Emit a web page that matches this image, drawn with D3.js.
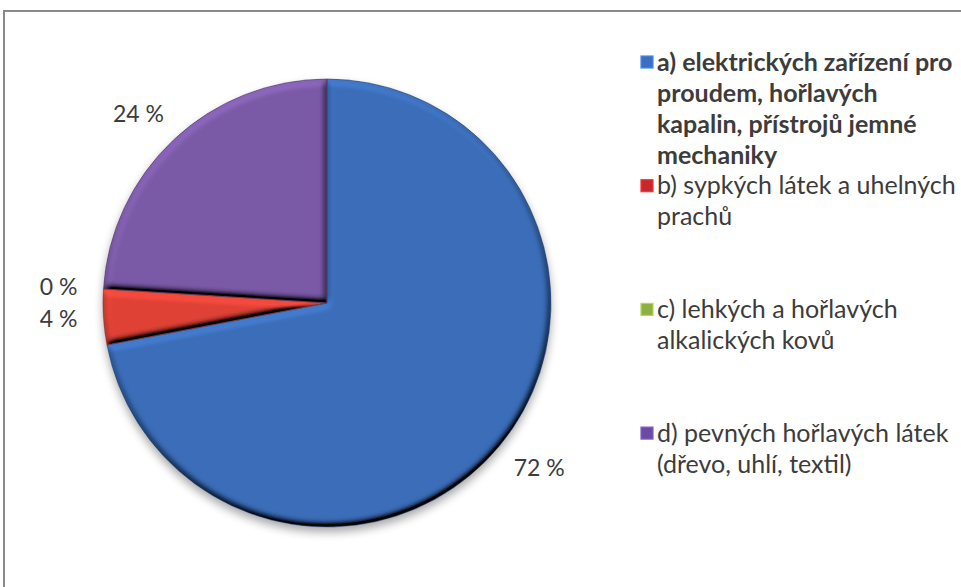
<!DOCTYPE html>
<html>
<head>
<meta charset="utf-8">
<script src="https://cdn.jsdelivr.net/npm/d3@7"></script>
<style>
  html, body { margin: 0; padding: 0; background: #ffffff; }
  svg { display: block; }
</style>
</head>
<body>
<svg id="chart" width="961" height="587"></svg>
<script>
// Category names (legend), split into the lines shown in the legend
const categories = [
  "a) elektrických zařízení pro proudem, hořlavých kapalin, přístrojů jemné mechaniky",
  "b) sypkých látek a uhelných prachů",
  "c) lehkých a hořlavých alkalických kovů",
  "d) pevných hořlavých látek (dřevo, uhlí, textil)"
];
const legendLines = [
  ["a) elektrických zařízení pro", "proudem, hořlavých", "kapalin, přístrojů jemné", "mechaniky"],
  ["b) sypkých látek a uhelných", "prachů"],
  ["c) lehkých a hořlavých", "alkalických kovů"],
  ["d) pevných hořlavých látek", "(dřevo, uhlí, textil)"]
];
// Share of each category in percent
const values = [72, 4, 0, 24];
const valueLabels = values.map(v => v + " %");
// Slice colours and legend key colours
const sliceColors = ["#3b6db8", "#df4236", "#9bbb59", "#7b5aa7"];
const keyColors = ["#3a6fc2", "#c8282c", "#8db043", "#6a4ba3"];
const boldItem = [true, false, false, false];

const W = 961, H = 587;
const svg = d3.select("#chart");
const FONT = "Lato, 'Noto Sans', sans-serif";
const TEXT_COLOR = "#3c3c3c";

const defs = svg.append("defs");

// Bevel: light the blurred alpha from above, then multiply with the slice colour
const elev = 50;
const bevel = defs.append("filter").attr("id", "bevel")
  .attr("x", "-5%").attr("y", "-5%").attr("width", "110%").attr("height", "110%");
bevel.append("feGaussianBlur").attr("in", "SourceAlpha").attr("stdDeviation", 3.5).attr("result", "blur");
const dl = bevel.append("feDiffuseLighting").attr("in", "blur").attr("surfaceScale", 7)
  .attr("diffuseConstant", 1).attr("lighting-color", "#ffffff").attr("result", "light");
dl.append("feDistantLight").attr("azimuth", 250).attr("elevation", elev);
bevel.append("feComposite").attr("in", "SourceGraphic").attr("in2", "light")
  .attr("operator", "arithmetic").attr("k1", 1 / Math.sin(elev * Math.PI / 180)).attr("k2", 0).attr("k3", 0).attr("k4", 0)
  .attr("result", "lit");
bevel.append("feComposite").attr("in", "lit").attr("in2", "SourceAlpha").attr("operator", "in");

// Soft shadow under the pie
const shadow = defs.append("filter").attr("id", "shadow")
  .attr("x", "-20%").attr("y", "-20%").attr("width", "140%").attr("height", "140%");
shadow.append("feGaussianBlur").attr("in", "SourceAlpha").attr("stdDeviation", 5).attr("result", "b");
shadow.append("feOffset").attr("in", "b").attr("dx", 0).attr("dy", 5).attr("result", "o");
shadow.append("feComponentTransfer").attr("in", "o")
  .append("feFuncA").attr("type", "linear").attr("slope", 0.35);

// Chart frame (left and top edges visible)
svg.append("path")
  .attr("d", `M4,${H + 10} V11 H${W + 10}`)
  .attr("fill", "none").attr("stroke", "#8a8a8a").attr("stroke-width", 2);

// Pie
const cx = 327, cy = 303, r = 224;
const pie = d3.pie().sort(null).value(d => d).startAngle(0).endAngle(2 * Math.PI);
const arcs = pie(values);
const arc = d3.arc().innerRadius(0).outerRadius(r);

const g = svg.append("g").attr("transform", `translate(${cx},${cy})`);

g.append("circle").attr("r", r).attr("fill", "#000").attr("filter", "url(#shadow)");

g.selectAll("path.slice")
  .data(arcs)
  .join("path")
  .attr("class", "slice")
  .attr("d", arc)
  .attr("fill", (d, i) => sliceColors[i])
  .attr("filter", "url(#bevel)");

g.selectAll("path.edge")
  .data(arcs.filter(d => d.value > 0))
  .join("path")
  .attr("class", "edge")
  .attr("d", arc)
  .attr("fill", "none")
  .attr("stroke", (d) => d3.color(sliceColors[d.index]).darker(1.2))
  .attr("stroke-opacity", 0.6)
  .attr("stroke-width", 1);

// Value labels placed outside the slice ends
const labelSize = 23;
const gap = 26;
const labels = g.selectAll("text.val")
  .data(arcs)
  .join("text")
  .attr("class", "val")
  .attr("font-family", FONT)
  .attr("font-size", labelSize)
  .attr("fill", TEXT_COLOR)
  .attr("text-anchor", "middle")
  .attr("dy", "0.35em")
  .text((d, i) => valueLabels[i]);

labels.each(function (d) {
  const a = (d.startAngle + d.endAngle) / 2;
  const dx = Math.sin(a), dy = -Math.cos(a);
  const w = this.getComputedTextLength();
  const h = labelSize * 0.8;
  const px = (r + gap) * dx + dx * w / 2;
  const py = (r + gap) * dy + dy * h / 2;
  d3.select(this).attr("x", px).attr("y", py);
});

// Legend
const legendX = 641, keySize = 12, textX = 657;
const legendTop = 62, itemStep = 123.7, lineStep = 31;
const legendSize = 25;

const legend = svg.append("g");
legendLines.forEach((lines, i) => {
  const y0 = legendTop + i * itemStep;
  legend.append("rect")
    .attr("x", legendX).attr("y", y0 - keySize / 2)
    .attr("width", keySize).attr("height", keySize)
    .attr("fill", keyColors[i])
    .attr("stroke", d3.color(keyColors[i]).brighter(0.6))
    .attr("stroke-width", 1.2);
  const t = legend.append("text")
    .attr("font-family", FONT)
    .attr("font-size", legendSize)
    .attr("font-weight", boldItem[i] ? 700 : 400)
    .attr("fill", TEXT_COLOR);
  lines.forEach((ln, j) => {
    t.append("tspan")
      .attr("x", textX)
      .attr("y", y0 + j * lineStep)
      .attr("dy", "0.35em")
      .text(ln);
  });
});
</script>
</body>
</html>
